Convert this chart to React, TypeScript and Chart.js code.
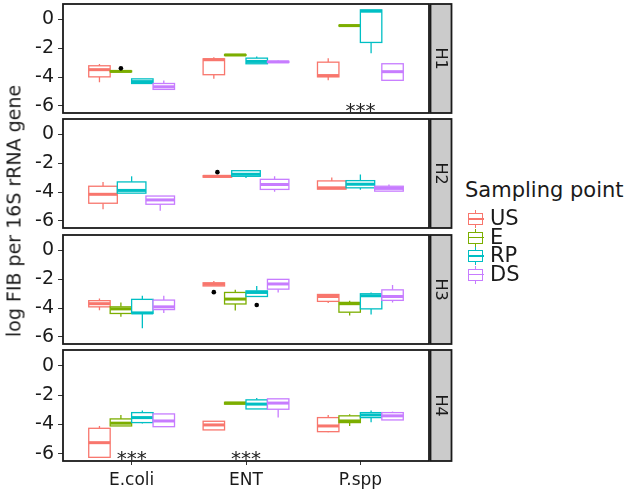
import React, { useEffect, useRef } from "react";
import { Chart, registerables } from "chart.js";

Chart.register(...registerables);

const categories = ["E.coli", "ENT", "P.spp"];
const seriesNames = ["US", "E", "RP", "DS"];
const seriesColors = ["#F8766D", "#7CAE00", "#00BFC4", "#C77CFF"];
const panelNames = ["H1", "H2", "H3", "H4"];
const yTicks = [0, -2, -4, -6];

// Each entry: [lower whisker, Q1, median, Q3, upper whisker] for E.coli, ENT, P.spp
const H1_US = [[-4.36, -3.99, -3.49, -3.22, -3.1], [-4.13, -3.84, -2.8, -2.74, -2.62], [-4.23, -3.99, -3.9, -2.97, -2.69]];
const H1_E = [[-3.64, -3.64, -3.61, -3.58, -3.58], [-2.5, -2.5, -2.47, -2.44, -2.44], [-0.46, -0.46, -0.43, -0.4, -0.4]];
const H1_RP = [[-4.45, -4.45, -4.32, -4.13, -4.13], [-3.08, -3.08, -2.92, -2.69, -2.58], [-2.35, -1.6, 0.57, 0.66, 0.66]];
const H1_DS = [[-4.91, -4.86, -4.68, -4.45, -4.25], [-2.99, -2.99, -2.95, -2.91, -2.86], [-4.23, -4.23, -3.63, -3.08, -3.08]];

const H2_US = [[-5.19, -4.78, -4.16, -3.6, -3.3], [-2.97, -2.97, -2.91, -2.87, -2.87], [-3.8, -3.8, -3.71, -3.23, -3.0]];
const H2_E = [null, null, null];
const H2_RP = [[-4.08, -4.08, -3.89, -3.3, -2.91], [-3.03, -2.91, -2.77, -2.52, -2.52], [-3.85, -3.71, -3.46, -3.21, -2.79]];
const H2_DS = [[-5.31, -4.85, -4.55, -4.28, -4.28], [-3.99, -3.82, -3.48, -3.12, -2.91], [-3.94, -3.94, -3.75, -3.6, -3.48]];

const H3_US = [[-4.16, -3.92, -3.7, -3.49, -3.34], [-2.47, -2.47, -2.35, -2.25, -2.12], [-3.65, -3.54, -3.2, -3.06, -3.06]];
const H3_E = [[-4.61, -4.38, -4.06, -3.92, -3.61], [-4.18, -3.72, -3.38, -2.92, -2.74], [-4.52, -4.29, -3.7, -3.61, -3.49]];
const H3_RP = [[-5.41, -4.38, -4.34, -3.4, -3.15], [-3.2, -3.2, -2.92, -2.81, -2.47], [-4.45, -4.06, -3.15, -3.01, -2.92]];
const H3_DS = [[-4.34, -4.11, -3.92, -3.45, -3.15], [-2.92, -2.69, -2.33, -2.01, -2.01], [-3.61, -3.47, -3.2, -2.74, -2.4]];

const H4_US = [[-6.25, -6.25, -5.25, -4.27, -4.11], [-4.38, -4.38, -4.04, -3.79, -3.79], [-4.54, -4.5, -4.11, -3.54, -3.36]];
const H4_E = [[-4.11, -4.11, -3.92, -3.63, -3.36], [-2.62, -2.62, -2.55, -2.5, -2.5], [-4.11, -3.88, -3.77, -3.42, -3.31]];
const H4_RP = [[-3.95, -3.88, -3.54, -3.2, -3.06], [-2.95, -2.95, -2.62, -2.33, -2.21], [-3.86, -3.54, -3.36, -3.2, -3.06]];
const H4_DS = [[-4.16, -4.16, -3.77, -3.29, -3.29], [-3.54, -2.97, -2.55, -2.26, -2.26], [-3.7, -3.7, -3.42, -3.2, -3.13]];

// outliers: panel index, series index, category index, value
const outlierPanel = [0, 1, 2, 2];
const outlierSeries = [1, 0, 0, 2];
const outlierCategory = [0, 1, 1, 1];
const outlierValue = [-3.4, -2.62, -2.9, -3.79];

// significance marks: panel index, category index, value
const starPanel = [0, 3, 3];
const starCategory = [2, 0, 1];
const starValue = [-6, -6, -6];

const panelData = [
  [H1_US, H1_E, H1_RP, H1_DS],
  [H2_US, H2_E, H2_RP, H2_DS],
  [H3_US, H3_E, H3_RP, H3_DS],
  [H4_US, H4_E, H4_RP, H4_DS],
];

const FONT = "'DejaVu Sans', 'Liberation Sans', sans-serif";
const Y_MIN = -6.5;
const Y_MAX = 1.07;
const PANEL_TOPS = [3, 118, 234, 350];
const PANEL_H = 111;
const CANVAS_W = 456;
const AREA_RIGHT = 429;

function dodge(p: number) {
  const groups = panelData[p];
  const present = groups.map((g) => g.some((b) => !!b));
  const n = present.filter(Boolean).length;
  const w = 0.75 / n;
  const offsets: number[] = [];
  let k = 0;
  present.forEach((pr, i) => {
    if (pr) {
      offsets[i] = -0.375 + (k + 0.5) * w;
      k++;
    } else offsets[i] = 0;
  });
  return { present, w, offsets };
}

const boxPlugin = {
  id: "ggbox",
  beforeDatasetsDraw(chart: any) {
    const { ctx, scales } = chart;
    const x = scales.x;
    const y = scales.y;
    ctx.save();
    chart.data.datasets.forEach((ds: any) => {
      if (!ds.boxData) return;
      ds.boxData.forEach((b: number[] | null, ci: number) => {
        if (!b) return;
        const cx = ci + 1 + ds.boxOffset;
        const xl = x.getPixelForValue(cx - ds.boxWidth / 2);
        const xr = x.getPixelForValue(cx + ds.boxWidth / 2);
        const xc = x.getPixelForValue(cx);
        const [lo, q1, med, q3, hi] = b.map((v) => y.getPixelForValue(v));
        ctx.strokeStyle = ds.boxColor;
        ctx.lineWidth = 1.3;
        ctx.beginPath();
        ctx.moveTo(xc, q3);
        ctx.lineTo(xc, hi);
        ctx.moveTo(xc, q1);
        ctx.lineTo(xc, lo);
        ctx.stroke();
        ctx.fillStyle = "#ffffff";
        ctx.fillRect(xl, q3, xr - xl, q1 - q3);
        ctx.strokeRect(xl, q3, xr - xl, q1 - q3);
        ctx.lineWidth = 3;
        ctx.beginPath();
        ctx.moveTo(xl, med);
        ctx.lineTo(xr, med);
        ctx.stroke();
      });
    });
    ctx.restore();
  },
  afterDraw(chart: any) {
    const { ctx, chartArea, scales } = chart;
    const p = chart.options.plugins.ggbox.panel;
    const x = scales.x;
    const y = scales.y;
    ctx.save();
    // stars
    ctx.fillStyle = "#222";
    ctx.font = `20px ${FONT}`;
    ctx.textAlign = "center";
    ctx.textBaseline = "alphabetic";
    starPanel.forEach((sp, i) => {
      if (sp !== p) return;
      const px = x.getPixelForValue(starCategory[i] + 1);
      const py = y.getPixelForValue(starValue[i]);
      ctx.fillText("***", px, py + 11.5);
    });
    // panel border
    ctx.strokeStyle = "#1a1a1a";
    ctx.lineWidth = 1.8;
    ctx.strokeRect(chartArea.left, chartArea.top, chartArea.right - chartArea.left, chartArea.bottom - chartArea.top);
    // strip
    const sx = chartArea.right + 1.5;
    const sw = 21;
    ctx.fillStyle = "#CBCBCB";
    ctx.fillRect(sx, chartArea.top, sw, chartArea.bottom - chartArea.top);
    ctx.strokeRect(sx, chartArea.top, sw, chartArea.bottom - chartArea.top);
    ctx.translate(sx + sw / 2, (chartArea.top + chartArea.bottom) / 2);
    ctx.rotate(Math.PI / 2);
    ctx.fillStyle = "#1a1a1a";
    ctx.font = `16px ${FONT}`;
    ctx.textAlign = "center";
    ctx.textBaseline = "middle";
    ctx.fillText(panelNames[p], 0, 1);
    ctx.restore();
  },
};

function buildConfig(p: number): any {
  const { present, w, offsets } = dodge(p);
  const isBottom = p === 3;
  const datasets: any[] = [];
  panelData[p].forEach((g, si) => {
    if (!present[si]) return;
    datasets.push({
      label: seriesNames[si],
      data: g
        .map((b, ci) => (b ? { x: ci + 1 + offsets[si], y: b[2] } : null))
        .filter((d) => d !== null),
      boxData: g,
      boxOffset: offsets[si],
      boxWidth: w,
      boxColor: seriesColors[si],
      pointRadius: 0,
      showLine: false,
    });
  });
  const outData: any[] = [];
  outlierPanel.forEach((op, i) => {
    if (op !== p) return;
    outData.push({ x: outlierCategory[i] + 1 + offsets[outlierSeries[i]], y: outlierValue[i] });
  });
  datasets.push({
    label: "outliers",
    data: outData,
    pointRadius: 2.3,
    pointBackgroundColor: "#000",
    pointBorderWidth: 0,
    showLine: false,
  });
  const totalH = isBottom ? 492 - (PANEL_TOPS[p] - 3) : PANEL_H + 6;
  return {
    type: "scatter",
    data: { datasets },
    plugins: [boxPlugin],
    options: {
      animation: false,
      responsive: false,
      devicePixelRatio: 1,
      events: [],
      layout: {
        padding: { left: 0, right: CANVAS_W - AREA_RIGHT, top: 3, bottom: isBottom ? 0 : 3 },
      },
      plugins: {
        legend: { display: false },
        tooltip: { enabled: false },
        ggbox: { panel: p },
      },
      scales: {
        x: {
          type: "linear",
          min: 0.4,
          max: 3.6,
          display: isBottom,
          afterBuildTicks: (scale: any) => {
            scale.ticks = categories.map((_, i) => ({ value: i + 1 }));
          },
          afterFit: (scale: any) => {
            if (isBottom) scale.height = totalH - 3 - PANEL_H;
            scale.paddingLeft = 0;
            scale.paddingRight = 0;
          },
          ticks: {
            callback: (v: number) => categories[Math.round(v) - 1] ?? "",
            font: { family: FONT, size: 17 },
            color: "#1a1a1a",
            padding: 5,
            maxRotation: 0,
            autoSkip: false,
          },
          grid: { display: true, drawOnChartArea: false, drawTicks: true, tickLength: 4, color: "#333" },
          border: { display: false },
        },
        y: {
          type: "linear",
          min: Y_MIN,
          max: Y_MAX,
          afterBuildTicks: (scale: any) => {
            scale.ticks = yTicks.map((v) => ({ value: v }));
          },
          afterFit: (scale: any) => {
            scale.width = 63;
            scale.paddingTop = 0;
            scale.paddingBottom = 0;
          },
          ticks: {
            font: { family: FONT, size: 19, lineHeight: 0.25 },
            color: "#1a1a1a",
            padding: 4,
            callback: (v: number) => String(v),
          },
          grid: { display: true, drawOnChartArea: false, drawTicks: true, tickLength: 5, color: "#333" },
          border: { display: false },
        },
      },
    },
  };
}

function Panel({ p }: { p: number }) {
  const ref = useRef<HTMLCanvasElement | null>(null);
  const isBottom = p === 3;
  const top = PANEL_TOPS[p] - 3;
  const h = isBottom ? 492 - top : PANEL_H + 6;
  useEffect(() => {
    if (!ref.current) return;
    const chart = new Chart(ref.current, buildConfig(p));
    return () => chart.destroy();
  }, [p]);
  return (
    <canvas
      ref={ref}
      width={CANVAS_W}
      height={h}
      style={{ position: "absolute", left: 0, top, width: CANVAS_W, height: h }}
    />
  );
}

function LegendKey({ color }: { color: string }) {
  return (
    <div style={{ position: "absolute", left: 0, top: 0, width: 18, height: 18 }}>
      <div style={{ position: "absolute", left: 8, top: 0, width: 1.4, height: 18, background: color }} />
      <div
        style={{
          position: "absolute",
          left: 1,
          top: 3,
          width: 13,
          height: 10,
          border: `1.4px solid ${color}`,
          background: "#fff",
        }}
      />
      <div style={{ position: "absolute", left: 1, top: 8.3, width: 16, height: 1.6, background: color }} />
    </div>
  );
}

export default function App() {
  const itemTops = [210, 228.5, 247, 265.5];
  return (
    <div
      style={{
        position: "absolute",
        left: 0,
        top: 0,
        width: 630,
        height: 492,
        background: "#fff",
        overflow: "hidden",
        fontFamily: FONT,
      }}
    >
      {panelNames.map((_, p) => (
        <Panel key={p} p={p} />
      ))}
      <div
        style={{
          position: "absolute",
          left: 14,
          top: 211,
          transform: "translate(-50%, -50%) rotate(-90deg)",
          whiteSpace: "nowrap",
          fontSize: 19,
          lineHeight: "19px",
          color: "#1a1a1a",
        }}
      >
        log FIB per 16S rRNA gene
      </div>
      <div
        style={{
          position: "absolute",
          left: 465,
          top: 180,
          fontSize: 21,
          lineHeight: "21px",
          color: "#1a1a1a",
          whiteSpace: "nowrap",
        }}
      >
        Sampling point
      </div>
      {seriesNames.map((s, i) => (
        <div key={s} style={{ position: "absolute", left: 467, top: itemTops[i], width: 120, height: 18 }}>
          <LegendKey color={seriesColors[i]} />
          <div
            style={{
              position: "absolute",
              left: 23,
              top: -2,
              fontSize: 21,
              lineHeight: "21px",
              color: "#1a1a1a",
              whiteSpace: "nowrap",
            }}
          >
            {s}
          </div>
        </div>
      ))}
    </div>
  );
}
